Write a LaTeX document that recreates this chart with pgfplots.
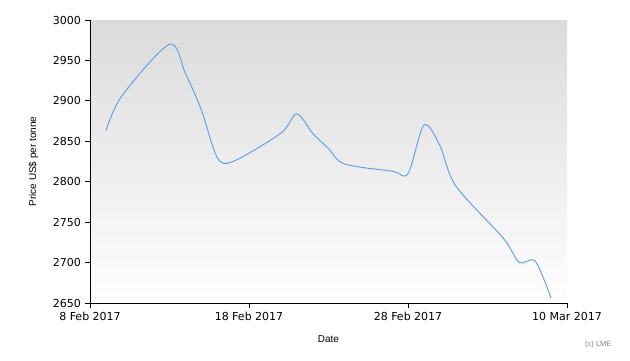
\documentclass[border=0pt]{standalone}
\usepackage{pgfplots}
\pgfplotsset{compat=1.18}
\usepackage{fontspec}
\setmainfont{DejaVu Sans}
\newfontfamily\labfont{Liberation Sans}
\definecolor{linec}{HTML}{5A9AEE}
\definecolor{bgtop}{HTML}{DBDBDB}
\definecolor{bgbot}{HTML}{FEFEFE}
\begin{document}
\begin{tikzpicture}[x=1pt,y=1pt]
\path[use as bounding box] (0,0) rectangle (630,360);
\begin{axis}[
  at={(90pt,57pt)}, anchor=south west,
  scale only axis, width=477pt, height=283pt,
  xmin=0, xmax=30, ymin=2650, ymax=3000,
  axis x line*=bottom, axis y line*=left,
  axis line style={black, line width=0.9pt, -},
  xtick={0,10,20,30},
  xticklabels={8 Feb 2017,18 Feb 2017,28 Feb 2017,10 Mar 2017},
  ytick={2650,2700,2750,2800,2850,2900,2950,3000},
  /pgf/number format/assume math mode=true,
  /pgf/number format/1000 sep={},
  tick style={black, line width=0.8pt},
  major tick length=4.5pt,
  tick align=outside,
  ticklabel style={font=\fontsize{11}{12}\selectfont},
  xticklabel style={yshift=-1pt},
  yticklabel style={xshift=-1pt},
  xlabel={Date}, ylabel={Price US\$ per tonne},
  label style={font=\labfont\fontsize{10}{12}\selectfont},
  xlabel style={yshift=-8pt},
  ylabel style={yshift=8pt},
  axis background/.style={shade, top color=bgtop, bottom color=bgbot},
  clip=false,
]
\addplot[linec, line width=0.9pt, smooth, tension=0.5] coordinates {
(1,2863) (2,2906) (5,2970) (6,2934) (7,2889) (8,2830) (9,2825)
(12,2860) (13,2884) (14,2860) (15,2841) (16,2822)
(19,2813) (20,2810) (21,2870) (22,2845) (23,2795)
(26,2730) (27,2700) (28,2702) (29,2656)
};
\end{axis}
\node[font=\labfont\fontsize{7.5}{9}\selectfont, text=black!50, anchor=east] at (615,15) {(c) LME};
\end{tikzpicture}
\end{document}
